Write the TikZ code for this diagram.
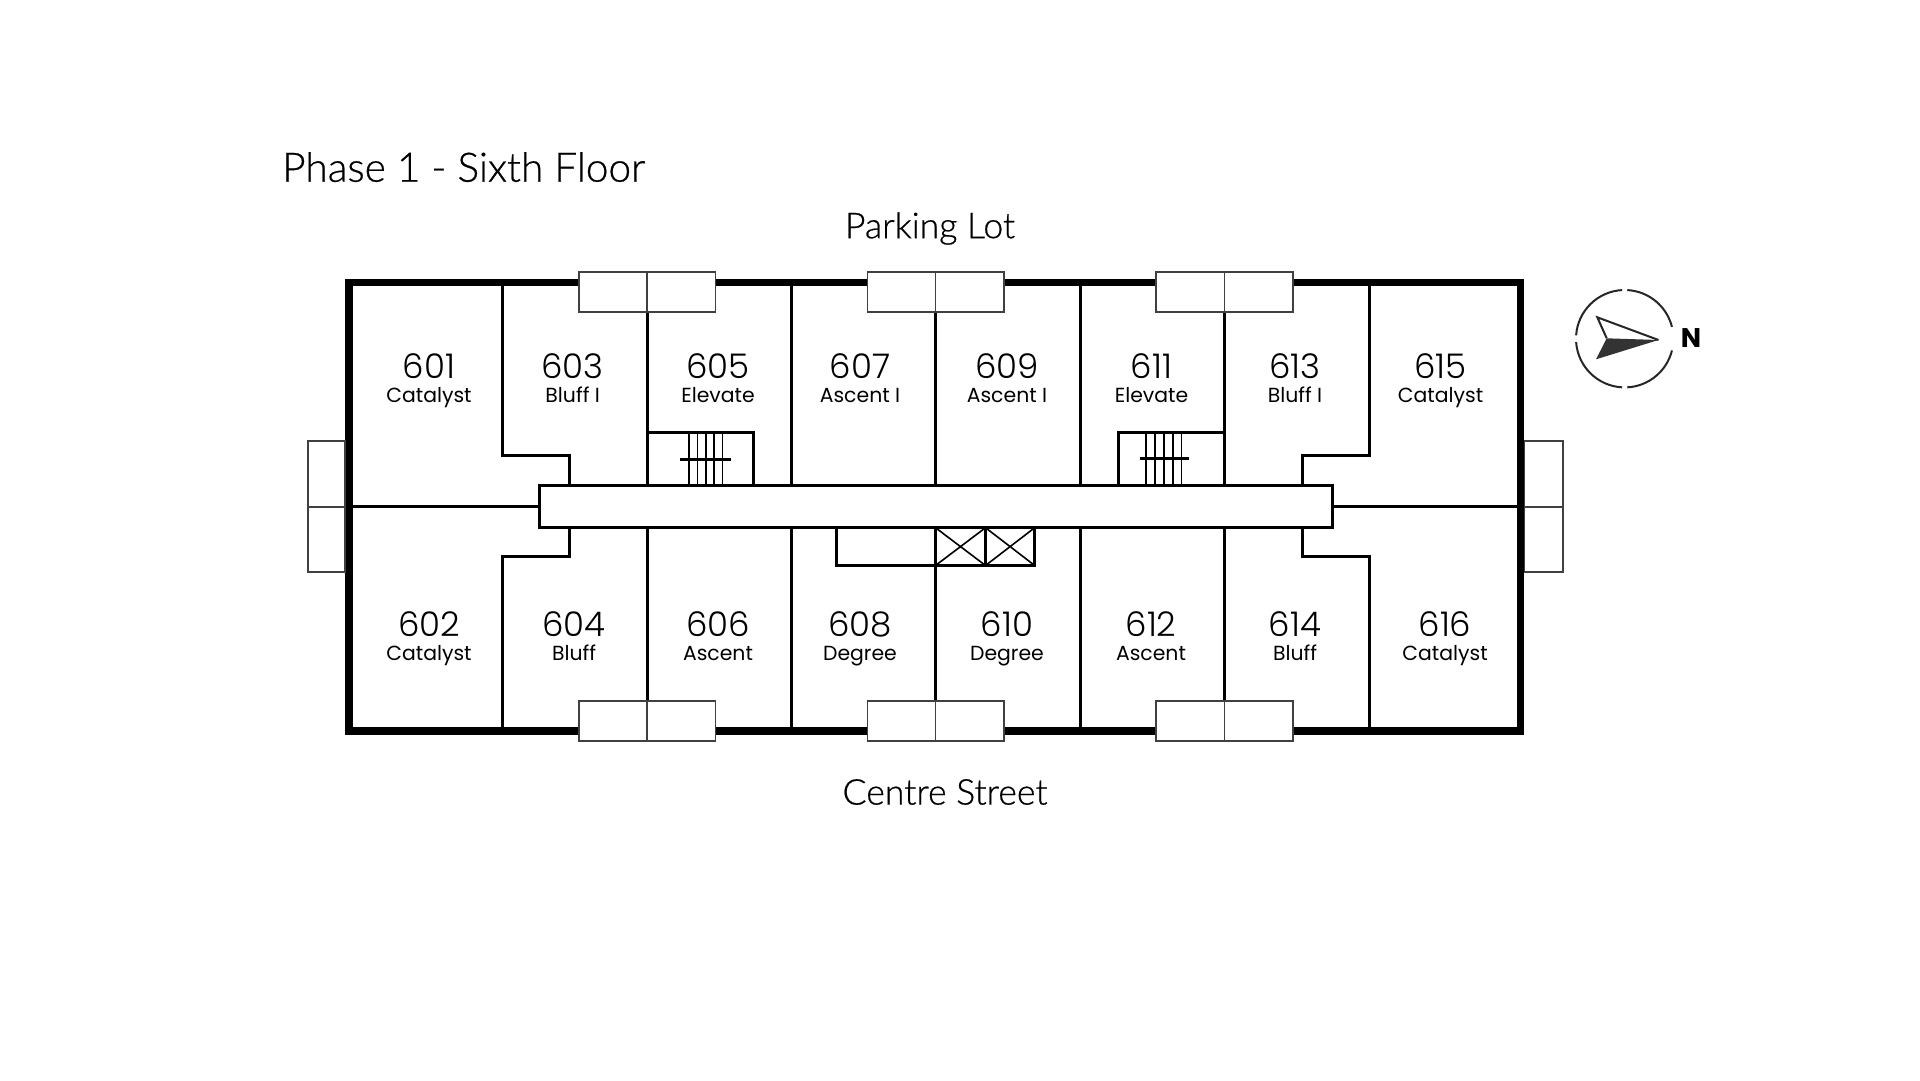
\documentclass[tikz,border=0pt]{standalone}
\usepackage{fontspec}
\setmainfont{Poppins}
\newfontfamily\signfont{Lato Light}[FakeBold=0.6]
\newfontfamily\numfont{Poppins Light}
\usetikzlibrary{
	positioning
}
\tikzset{
	outerwall/.style={draw=black,line width=7.5pt},
	wall/.style={draw=black,line width=3pt},
	thinline/.style={draw=black,line width=1.6pt},
	balcony/.style={draw=black!75,fill=white,line width=1.7pt},
	unitno/.style={inner sep=0pt,text height=23pt,text depth=0pt,font=\numfont\fontsize{34}{34}\selectfont},
	unitname/.style={inner sep=0pt,text height=15pt,text depth=0pt,below=9pt of #1,font=\fontsize{20.4}{20.4}\selectfont},
	sign/.style={inner sep=0pt,font=\signfont\fontsize{40.6}{40.6}\selectfont}
}
\begin{document}
\begin{tikzpicture}[x=1pt,y=-1pt]
		\useasboundingbox (0,0) rectangle (1920,1080);

		% building
		\draw[outerwall] (349,282.5) rectangle (1520.5,731);
		\draw[wall] (349,506.7) -- (1520.5,506.7);

		% unit walls, upper row
		\draw[wall]
			(502.5,282.5) -- (502.5,455) -- (569,455) -- (569,486)
			(647,300) -- (647,486)
			(791,282.5) -- (791,486)
			(935.5,300) -- (935.5,486)
			(1080,282.5) -- (1080,486)
			(1224.5,300) -- (1224.5,486)
			(1369,282.5) -- (1369,455) -- (1302,455) -- (1302,486)
		;
		% unit walls, lower row
		\draw[wall]
			(502.5,731) -- (502.5,556.5) -- (569,556.5) -- (569,527)
			(647,527) -- (647,710)
			(791,527) -- (791,731)
			(935.5,527) -- (935.5,710)
			(1080,527) -- (1080,731)
			(1224.5,527) -- (1224.5,710)
			(1369,731) -- (1369,556.5) -- (1302,556.5) -- (1302,527)
		;

		% stairs
		\draw[wall]
			(647,432.7) -- (753.3,432.7) -- (753.3,486)
			(1224.5,432.7) -- (1118,432.7) -- (1118,486)
		;
		\draw[thinline]
			(689,432.7) -- (689,486)
			(697.3,432.7) -- (697.3,486)
			(705.7,432.7) -- (705.7,486)
			(714,432.7) -- (714,486)
			(722.3,432.7) -- (722.3,486)
			(1146,432.7) -- (1146,486)
			(1155,432.7) -- (1155,486)
			(1164,432.7) -- (1164,486)
			(1173,432.7) -- (1173,486)
			(1181.6,432.7) -- (1181.6,486)
		;
		\draw[wall]
			(680.3,459) -- (730.7,459)
			(1139.6,458.5) -- (1188.6,458.5)
		;

		% elevators
		\draw[wall]
			(836.7,527) -- (836.7,565.5) -- (1034.7,565.5) -- (1034.7,527)
			(985.5,527) -- (985.5,565.5)
		;
		\draw[thinline]
			(935.5,527.7) -- (985.5,565.5)
			(985.5,527.7) -- (935.5,565.5)
			(985.5,527.7) -- (1034.7,565.5)
			(1034.7,527.7) -- (985.5,565.5)
		;

		% corridor
		\draw[wall,fill=white] (539,485.7) rectangle (1332.6,527.7);

		% balconies
		\draw[balcony] (579,271.7) rectangle (715.5,311.7) (647,271.7) -- (647,311.7);
		\draw[balcony] (867.5,271.7) rectangle (1004,311.7) (935.5,271.7) -- (935.5,311.7);
		\draw[balcony] (1156,271.7) rectangle (1293,311.7) (1224.5,271.7) -- (1224.5,311.7);
		\draw[balcony] (579,700.7) rectangle (715.5,740.7) (647,700.7) -- (647,740.7);
		\draw[balcony] (867.5,700.7) rectangle (1004,740.7) (935.5,700.7) -- (935.5,740.7);
		\draw[balcony] (1156,700.7) rectangle (1293,740.7) (1224.5,700.7) -- (1224.5,740.7);
		\draw[balcony] (308,440.7) rectangle (345,571.7) (308,506.7) -- (345,506.7);
		\draw[balcony] (1524.5,440.7) rectangle (1563,571.7) (1524.5,506.7) -- (1563,506.7);

		% compass
		\draw[black!85,line width=2pt]
			(1624.7,338.7) ++(14:48.7) arc[start angle=14,end angle=87,radius=48.7]
			(1624.7,338.7) ++(93:48.7) arc[start angle=93,end angle=176,radius=48.7]
			(1624.7,338.7) ++(184:48.7) arc[start angle=184,end angle=267,radius=48.7]
			(1624.7,338.7) ++(273:48.7) arc[start angle=273,end angle=346,radius=48.7]
		;
		\draw[black!85,line width=2pt,line join=miter] (1606.7,338.3) -- (1597.3,317.3) -- (1658.5,340);
		\fill[black!80] (1606.7,338.3) -- (1658.5,340) -- (1596,359.3) -- cycle;

		\draw
			node[sign,anchor=base west] (title) at (282,181.7) {Phase 1 - Sixth Floor}
			node[sign,font=\signfont\fontsize{35.6}{35.6}\selectfont] (parking) at (930,228.5) {Parking Lot}
			node[sign,font=\signfont\fontsize{35.6}{35.6}\selectfont] (street) at (945,792) {Centre Street}
			node[inner sep=0pt,font=\bfseries\fontsize{27}{27}\selectfont] (north) at (1691,338) {N}

			node[unitno] (n601) at (429,367)    {601}
			node[unitno] (n603) at (572.7,367)  {603}
			node[unitno] (n605) at (718,367)    {605}
			node[unitno] (n607) at (860,367)    {607}
			node[unitno] (n609) at (1007,367)   {609}
			node[unitno] (n611) at (1151.5,367) {611}
			node[unitno] (n613) at (1295,367)   {613}
			node[unitno] (n615) at (1440.5,367) {615}
			node[unitno] (n602) at (429,625)    {602}
			node[unitno] (n604) at (574,625)    {604}
			node[unitno] (n606) at (718,625)    {606}
			node[unitno] (n608) at (860,625)    {608}
			node[unitno] (n610) at (1007,625)   {610}
			node[unitno] (n612) at (1151,625)   {612}
			node[unitno] (n614) at (1295,625)   {614}
			node[unitno] (n616) at (1445,625)   {616}

			node[unitname=n601] (t601) {Catalyst}
			node[unitname=n603] (t603) {Bluff I}
			node[unitname=n605] (t605) {Elevate}
			node[unitname=n607] (t607) {Ascent I}
			node[unitname=n609] (t609) {Ascent I}
			node[unitname=n611] (t611) {Elevate}
			node[unitname=n613] (t613) {Bluff I}
			node[unitname=n615] (t615) {Catalyst}
			node[unitname=n602] (t602) {Catalyst}
			node[unitname=n604] (t604) {Bluff}
			node[unitname=n606] (t606) {Ascent}
			node[unitname=n608] (t608) {Degree}
			node[unitname=n610] (t610) {Degree}
			node[unitname=n612] (t612) {Ascent}
			node[unitname=n614] (t614) {Bluff}
			node[unitname=n616] (t616) {Catalyst}
		;
    \end{tikzpicture}
\end{document}
